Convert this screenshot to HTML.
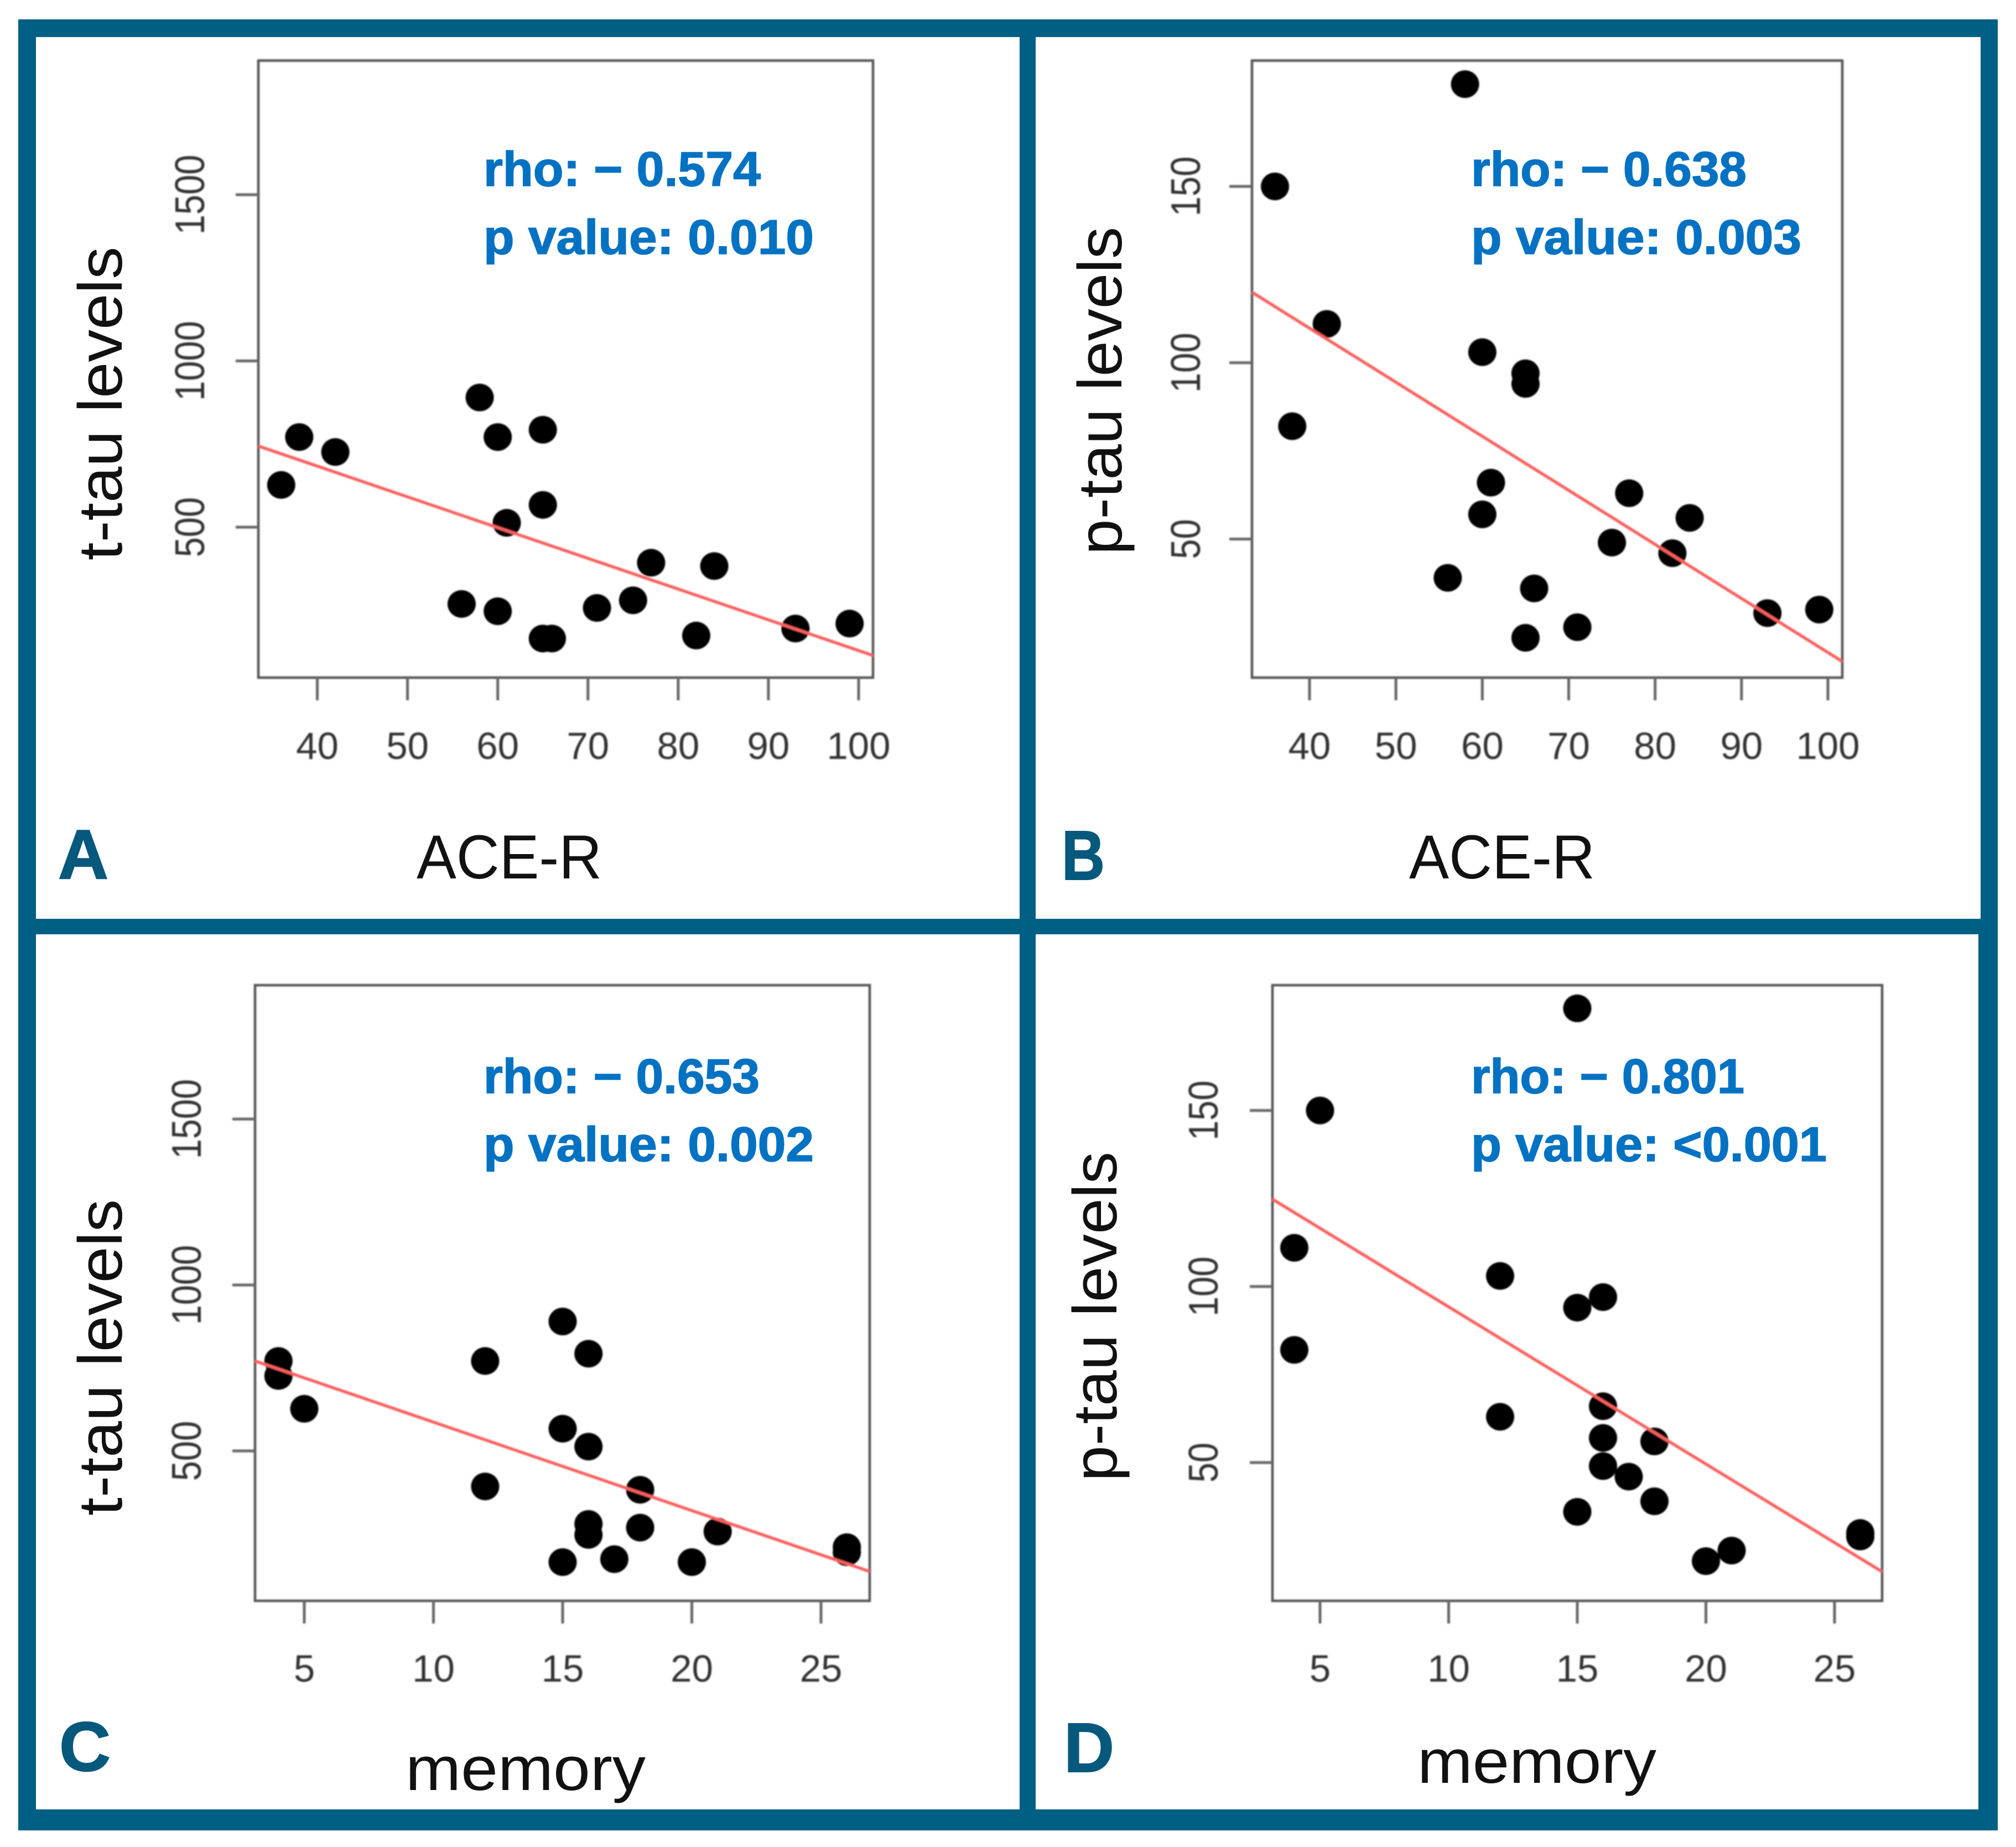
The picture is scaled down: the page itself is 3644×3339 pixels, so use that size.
<!DOCTYPE html>
<html lang="en">
<head>
<meta charset="utf-8">
<title>Correlation of CSF tau levels with ACE-R and memory scores</title>
<style>
html,body{margin:0;padding:0;background:#fff;}
body{width:3644px;height:3339px;overflow:hidden;}
svg{display:block;}
text{font-family:"Liberation Sans",Arial,sans-serif;}
.stat{font-weight:700;fill:#0472c3;stroke:#0472c3;stroke-width:1.6px;font-size:88px;}
.letter{font-weight:700;fill:#06587c;stroke:#06587c;stroke-width:2px;font-size:126px;}
.title{fill:#111;font-size:112px;}
</style>
</head>
<body>
<svg id="figure" xmlns="http://www.w3.org/2000/svg" width="3644" height="3339" viewBox="0 0 3644 3339">
  <defs>
    <filter id="soft" x="-2%" y="-2%" width="104%" height="104%"><feGaussianBlur stdDeviation="1.3"/></filter>
  </defs>
  <rect width="3644" height="3339" fill="#ffffff"/>
  <rect x="33" y="35" width="3578" height="3274" fill="#005f85"/>
  <rect x="65" y="67" width="1778" height="1594" fill="#ffffff"/>
  <rect x="1872" y="67" width="1708" height="1594" fill="#ffffff"/>
  <rect x="65" y="1689" width="1778" height="1582" fill="#ffffff"/>
  <rect x="1872" y="1689" width="1704" height="1582" fill="#ffffff"/>

  <g id="plots" filter="url(#soft)"></g>

  <text class="title" transform="translate(220,1013) rotate(-90)" textLength="567" lengthAdjust="spacingAndGlyphs">t-tau levels</text>
  <text class="title" transform="translate(2027,1003) rotate(-90)" textLength="593" lengthAdjust="spacingAndGlyphs">p-tau levels</text>
  <text class="title" transform="translate(220,2740) rotate(-90)" textLength="572" lengthAdjust="spacingAndGlyphs">t-tau levels</text>
  <text class="title" transform="translate(2018,2678) rotate(-90)" textLength="596" lengthAdjust="spacingAndGlyphs">p-tau levels</text>

  <text class="title" x="753" y="1588" textLength="335" lengthAdjust="spacingAndGlyphs">ACE-R</text>
  <text class="title" x="2547" y="1588" textLength="336" lengthAdjust="spacingAndGlyphs">ACE-R</text>
  <text class="title" x="733" y="3236" textLength="434" lengthAdjust="spacingAndGlyphs">memory</text>
  <text class="title" x="2562" y="3223" textLength="432" lengthAdjust="spacingAndGlyphs">memory</text>

  <text class="stat" x="874" y="336" textLength="501" lengthAdjust="spacingAndGlyphs">rho: − 0.574</text>
  <text class="stat" x="874" y="459" textLength="597" lengthAdjust="spacingAndGlyphs">p value: 0.010</text>
  <text class="stat" x="2659" y="336" textLength="498" lengthAdjust="spacingAndGlyphs">rho: − 0.638</text>
  <text class="stat" x="2659" y="459" textLength="597" lengthAdjust="spacingAndGlyphs">p value: 0.003</text>
  <text class="stat" x="874" y="1976" textLength="499" lengthAdjust="spacingAndGlyphs">rho: − 0.653</text>
  <text class="stat" x="874" y="2099" textLength="597" lengthAdjust="spacingAndGlyphs">p value: 0.002</text>
  <text class="stat" x="2659" y="1976" textLength="494" lengthAdjust="spacingAndGlyphs">rho: − 0.801</text>
  <text class="stat" x="2659" y="2099" textLength="643" lengthAdjust="spacingAndGlyphs">p value: &lt;0.001</text>

  <text class="letter" x="105" y="1588" textLength="91" lengthAdjust="spacingAndGlyphs">A</text>
  <text class="letter" x="1919" y="1590" textLength="78" lengthAdjust="spacingAndGlyphs">B</text>
  <text class="letter" x="107" y="3201" textLength="93" lengthAdjust="spacingAndGlyphs">C</text>
  <text class="letter" x="1923" y="3203" textLength="91" lengthAdjust="spacingAndGlyphs">D</text>
</svg>
<script>
// Patient values (same order in every array)
var aceR   = [36, 38, 42, 56, 58, 60, 60, 61, 65, 65, 65, 66, 71, 75, 77, 82, 84, 93, 99];
var memory = [5, 4, 4, 18, 15, 12, 16, 16, 16, 15, 20, 15, 21, 16, 12, 17, 18, 26, 26];
var tTau   = [627, 771, 726, 269, 890, 771, 247, 513, 793, 567, 165, 165, 257, 280, 393, 174, 383, 195, 210];
var pTau   = [150, 82, 111, 39, 179, 103, 57, 66, 97, 94, 22, 36, 25, 49, 63, 46, 56, 29, 30];

// Tick labels
var aceTicks    = [40, 50, 60, 70, 80, 90, 100];
var memoryTicks = [5, 10, 15, 20, 25];
var tTauTicks   = [500, 1000, 1500];
var pTauTicks   = [50, 100, 150];

// Regression line end points, in data units
var fitAX = [33.47, 101.6];
var fitAY = [744, 114];
var fitBX = [33.34, 101.65];
var fitBY = [120, 15.3];
var fitCX = [3.09, 26.88];
var fitCY = [771, 137];
var fitDX = [3.15, 26.85];
var fitDY = [124.8, 19];

var SVGNS = 'http://www.w3.org/2000/svg';
var plots = document.getElementById('plots');

function make(tag, attrs, parent) {
  var el = document.createElementNS(SVGNS, tag);
  for (var k in attrs) { el.setAttribute(k, attrs[k]); }
  parent.appendChild(el);
  return el;
}

// Linear axis function from two calibration pairs
function axis(v0, p0, v1, p1) {
  return function (v) { return p0 + (v - v0) * (p1 - p0) / (v1 - v0); };
}

function drawPanel(id, layout, xs, ys, xTicks, yTicks, fitX, fitY) {
  var sx = axis(layout.xA[0], layout.xA[1], layout.xB[0], layout.xB[1]);
  var sy = axis(layout.yA[0], layout.yA[1], layout.yB[0], layout.yB[1]);
  var g = make('g', {}, plots);
  
  

  var box = make('rect', {
    x: layout.left, y: layout.top,
    width: layout.right - layout.left, height: layout.bottom - layout.top,
    fill: 'none', stroke: '#555555', 'stroke-width': 4.5
  }, g);
  
  

  xTicks.forEach(function (t) {
    var x = sx(t);
    var tick = make('line', {
      x1: x, x2: x, y1: layout.bottom, y2: layout.bottom + 41,
      stroke: '#666666', 'stroke-width': 5
    }, g);
    
    
    var label = make('text', {
      transform: 'translate(' + x + ',' + layout.xLabelY + ')',
      'text-anchor': 'middle', 'font-size': 69, fill: '#333333'
    }, g);
    label.textContent = String(t);
    
    
  });

  yTicks.forEach(function (t) {
    var y = sy(t);
    var tick = make('line', {
      x1: layout.left - 41, x2: layout.left, y1: y, y2: y,
      stroke: '#666666', 'stroke-width': 5
    }, g);
    
    
    var label = make('text', {
      transform: 'translate(' + layout.yLabelX + ',' + y + ') rotate(-90) scale(1,1.15)',
      'text-anchor': 'middle', 'font-size': 65, fill: '#333333'
    }, g);
    label.textContent = String(t);
    
    
  });

  xs.forEach(function (v, i) {
    var dot = make('ellipse', {
      cx: sx(v), cy: sy(ys[i]), rx: 25.5, ry: 25, fill: '#000000'
    }, g);
    
    
  });

  var fit = make('line', {
    x1: sx(fitX[0]), y1: sy(fitY[0]), x2: sx(fitX[1]), y2: sy(fitY[1]),
    stroke: '#f9605f', 'stroke-width': 5.5
  }, g);
  
  
}

drawPanel('a', {
  left: 467, right: 1578, top: 109.5, bottom: 1225,
  xA: [40, 573.5], xB: [100, 1552], yA: [500, 953], yB: [1500, 352],
  xLabelY: 1372, yLabelX: 369
}, aceR, tTau, aceTicks, tTauTicks, fitAX, fitAY);

drawPanel('b', {
  left: 2263, right: 3330, top: 109.5, bottom: 1225,
  xA: [40, 2367], xB: [100, 3304], yA: [50, 974.5], yB: [150, 337],
  xLabelY: 1372, yLabelX: 2169
}, aceR, pTau, aceTicks, pTauTicks, fitBX, fitBY);

drawPanel('c', {
  left: 461, right: 1572, top: 1781, bottom: 2894,
  xA: [5, 550], xB: [25, 1484], yA: [500, 2623], yB: [1500, 2023],
  xLabelY: 3040, yLabelX: 363
}, memory, tTau, memoryTicks, tTauTicks, fitCX, fitCY);

drawPanel('d', {
  left: 2300, right: 3402, top: 1781, bottom: 2894,
  xA: [5, 2386], xB: [25, 3316], yA: [50, 2644], yB: [150, 2007.5],
  xLabelY: 3040, yLabelX: 2201
}, memory, pTau, memoryTicks, pTauTicks, fitDX, fitDY);
</script>
</body>
</html>
